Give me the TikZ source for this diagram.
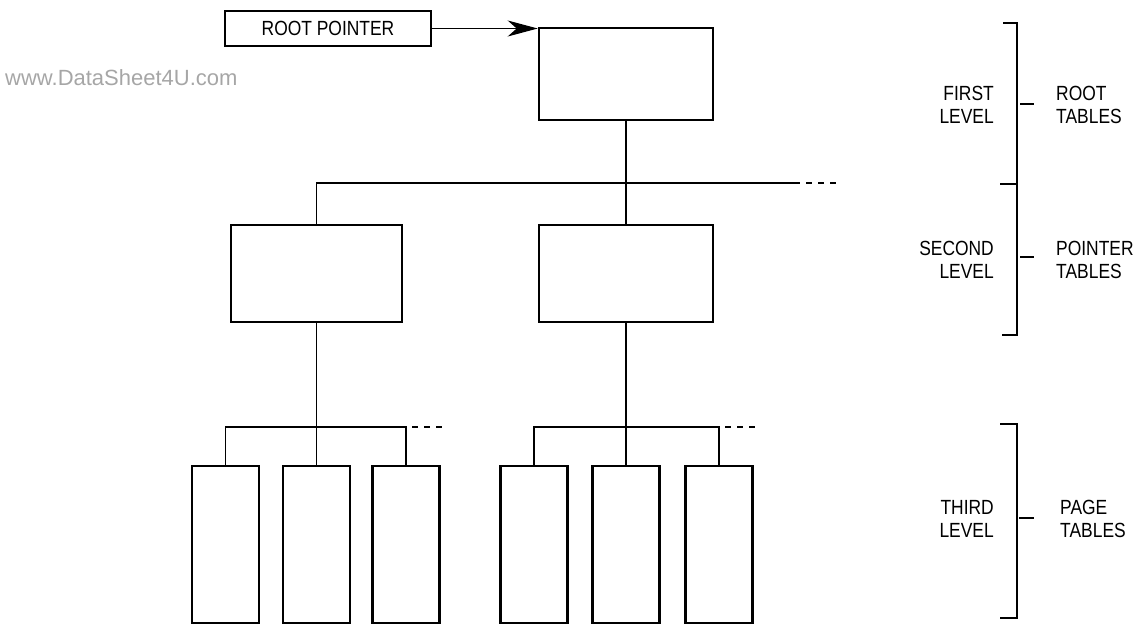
\documentclass[tikz,border=0pt]{standalone}
\usepackage{fontspec}
\setmainfont{Liberation Sans}
\newfontfamily\lblfont[FakeStretch=0.85]{Liberation Sans}
\usetikzlibrary{arrows.meta,positioning,calc}

\begin{document}
\begin{tikzpicture}[x=1pt,y=-1pt,
    tbl/.style={rectangle, draw, line width=2.6pt, inner sep=0pt},
    wire/.style={line width=1.3pt},
    more/.style={line width=1.3pt, dash pattern=on 6pt off 6pt},
    lbl/.style={font=\lblfont\fontsize{20.5}{22.7}\selectfont, inner sep=0pt}]
\useasboundingbox (0,0) rectangle (1136,629);

% watermark
\node[font=\fontsize{22}{26}\selectfont, text=black!35, anchor=west, inner sep=0pt] (mark) at (5,78) {www.DataSheet4U.com};

% tables
\node[rectangle, draw, line width=2.4pt, minimum width=206pt, minimum height=35pt, lbl] (rootptr) at (328,28.5) {ROOT POINTER};
\node[tbl, minimum width=174pt, minimum height=92pt] (root) at (626,74) {};
\node[tbl, minimum width=171pt, minimum height=97pt] (ptrA) at (316.5,273.5) {};
\node[tbl, minimum width=174pt, minimum height=97pt] (ptrB) at (626,273.5) {};
\foreach \i/\x in {1/225.5,2/316.5,3/406,4/534,5/626,6/719}
  \node[tbl, minimum width=67pt, minimum height=157pt] (page\i) at (\x,544.5) {};

\draw[wire, -{Stealth[length=30pt,width=16pt,inset=9pt]}] (rootptr.east) -- (rootptr.east -| root.west);

% first to second level
\coordinate (busA) at (ptrA.north |- 0,183);
\coordinate (busE) at (800,183);
\draw[wire] (root.south) -- (ptrB.north);
\draw[wire] (ptrA.north) -- (busA) -- (busE);
\draw[more] ($(busE)+(6,0)$) -- ++(32,0);

% second to third level
\coordinate (busB) at (page1.north |- 0,427);
\coordinate (busC) at (page3.north |- busB);
\draw[wire] (ptrA.south) -- (page2.north);
\draw[wire] (page1.north) -- (busB) -- (busC) -- (page3.north);
\draw[more] ($(busC)+(6,0)$) -- ++(32,0);

\coordinate (busD) at (page4.north |- 0,427);
\coordinate (busF) at (page6.north |- busD);
\draw[wire] (ptrB.south) -- (page5.north);
\draw[wire] (page4.north) -- (busD) -- (busF) -- (page6.north);
\draw[more] ($(busF)+(6,0)$) -- ++(32,0);

% brackets
\draw[wire] (1003,23) -- (1017,23) -- (1017,335) -- (1002,335);
\draw[wire] (1000,184) -- (1017,184);
\draw[wire] (1020,104) -- (1034,104);
\draw[wire] (1020,257) -- (1034,257);
\draw[wire] (1000,424) -- (1017,424) -- (1017,618) -- (1000,618);
\draw[wire] (1019,518) -- (1034,518);

% labels
\node[lbl, anchor=east, align=right] (lvl1) at (994,105) {FIRST\\LEVEL};
\node[lbl, anchor=west, align=left] (tbl1) at (1056,105) {ROOT\\TABLES};
\node[lbl, anchor=east, align=right] (lvl2) at (994,260) {SECOND\\LEVEL};
\node[lbl, anchor=west, align=left] (tbl2) at (1056,260) {POINTER\\TABLES};
\node[lbl, anchor=east, align=right] (lvl3) at (994,519) {THIRD\\LEVEL};
\node[lbl, anchor=west, align=left] (tbl3) at (1060,519) {PAGE\\TABLES};
\end{tikzpicture}
\end{document}
